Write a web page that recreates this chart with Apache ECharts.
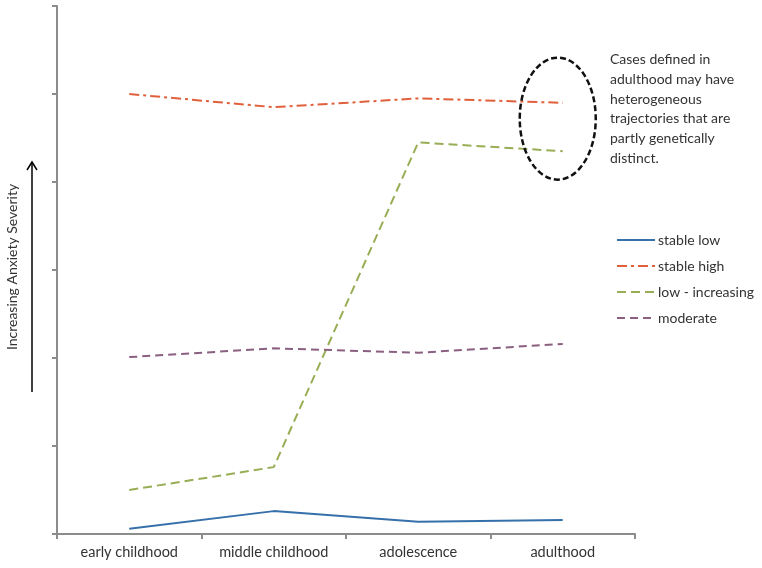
<!DOCTYPE html>
<html><head><meta charset="utf-8">
<script src="https://cdn.jsdelivr.net/npm/echarts@6/dist/echarts.min.js"></script>
<style>html,body{margin:0;padding:0;background:#fff}#c{width:762px;height:568px}</style>
</head><body><div id="c"></div>
<script>
const categories = ['early childhood', 'middle childhood', 'adolescence', 'adulthood'];
const stableLow = [0.06, 0.26, 0.14, 0.16];
const stableHigh = [5.0, 4.85, 4.95, 4.9];
const lowIncreasing = [0.5, 0.76, 4.45, 4.35];
const moderate = [2.01, 2.11, 2.06, 2.16];
const seriesNames = ['stable low', 'stable high', 'low - increasing', 'moderate'];
const noteLines = ['Cases defined in', 'adulthood may have', 'heterogeneous', 'trajectories that are', 'partly genetically', 'distinct.'];
const yAxisName = 'Increasing Anxiety Severity';

const font = 'Lato, "Open Sans", sans-serif';
const chart = echarts.init(document.getElementById('c'));
function mk(name, data, color, type) {
  return { name, type: 'line', data, symbol: 'none', lineStyle: { color, width: 2, type }, itemStyle: { color } };
}
chart.setOption({
  animation: false,
  grid: { left: 57, right: 127, top: 6, bottom: 34 },
  legend: {
    orient: 'vertical', left: 616, top: 233, padding: 0, itemWidth: 38, itemHeight: 14, itemGap: 12,
    itemStyle: { color: 'rgba(0,0,0,0)', borderWidth: 0, opacity: 0 },
    textStyle: { fontFamily: font, fontSize: 14, color: '#333', padding: [0, 0, 0, -2] },
    data: seriesNames
  },
  xAxis: {
    type: 'category', data: categories, boundaryGap: true,
    axisLine: { lineStyle: { color: '#8c8c8c', width: 2 } },
    axisTick: { show: true, length: 5, lineStyle: { color: '#8c8c8c', width: 2 } },
    axisLabel: { fontFamily: font, fontSize: 14.5, color: '#333', margin: 11 }
  },
  yAxis: {
    type: 'value', min: 0, max: 6, interval: 1,
    axisLine: { show: true, lineStyle: { color: '#8c8c8c', width: 2 } },
    axisTick: { show: true, length: 5, lineStyle: { color: '#8c8c8c', width: 2 } },
    axisLabel: { show: false }, splitLine: { show: false }
  },
  series: [
    mk(seriesNames[0], stableLow, '#3670aa', 'solid'),
    mk(seriesNames[1], stableHigh, '#e1603c', [10, 4, 3, 4]),
    mk(seriesNames[2], lowIncreasing, '#98ae55', [9, 5]),
    mk(seriesNames[3], moderate, '#8a5f80', [8, 5])
  ]
});

// annotations
const c = chart.convertToPixel({ xAxisIndex: 0, yAxisIndex: 0 }, ['adulthood', 4.72]);
const g = [
  { type: 'ellipse', shape: { cx: c[0] - 5, cy: c[1], rx: 38, ry: 61 }, style: { fill: 'none', stroke: '#111', lineWidth: 2.5, lineDash: [6, 3] }, z: 10 },
  { type: 'text', left: 610, top: 50, style: { text: noteLines.join('\n'), font: '14px ' + font, fill: '#333', lineHeight: 19.7 }, z: 10 },
  { type: 'text', x: 5, y: 267, rotation: Math.PI / 2, style: { text: yAxisName, font: '14px ' + font, fill: '#333', align: 'center', verticalAlign: 'top' }, z: 10 },
  { type: 'line', shape: { x1: 32, y1: 392, x2: 32, y2: 162 }, style: { stroke: '#000', lineWidth: 1.5 } },
  { type: 'polyline', shape: { points: [[27, 170], [32, 162], [37, 170]] }, style: { stroke: '#000', lineWidth: 1.5, fill: 'none' } }
];
chart.setOption({ graphic: g });
</script></body></html>
